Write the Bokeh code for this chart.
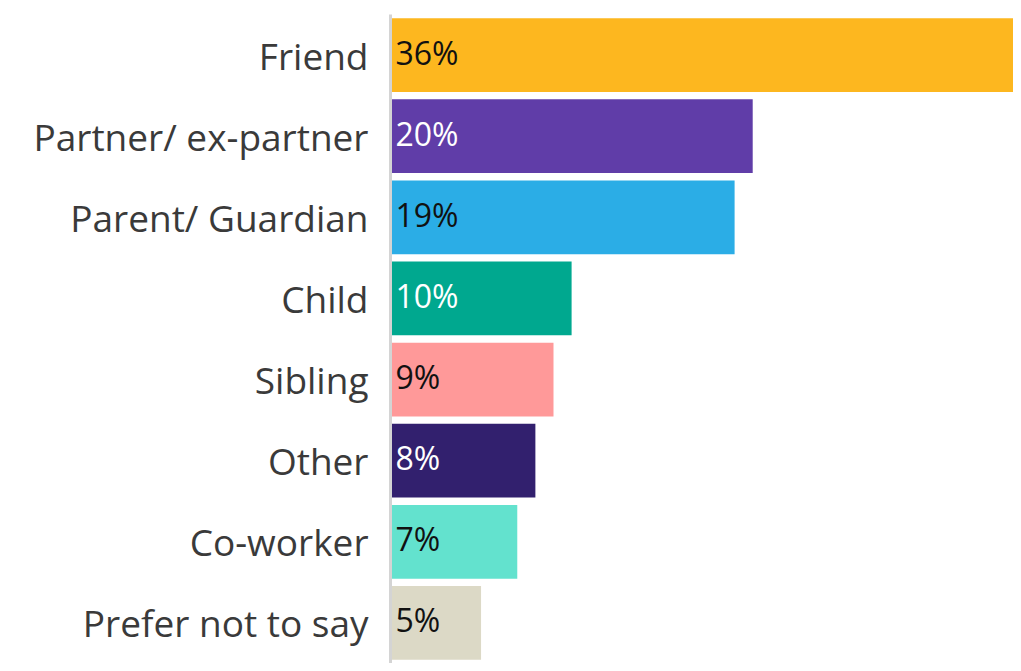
from bokeh.plotting import figure
from bokeh.models import ColumnDataSource, FactorRange, Range1d
from bokeh.core.properties import value
from bokeh.embed import file_html
from bokeh.resources import INLINE

categories = ["Friend", "Partner/ ex-partner", "Parent/ Guardian", "Child",
              "Sibling", "Other", "Co-worker", "Prefer not to say"]
values = [36, 20, 19, 10, 9, 8, 7, 5]
labels = ["36%", "20%", "19%", "10%", "9%", "8%", "7%", "5%"]
colors = ["#FDB71F", "#603DA8", "#2BADE6", "#00A88F", "#FF9999",
          "#32206E", "#63E2CE", "#DCD9C6"]
label_colors = ["#111111", "#FFFFFF", "#111111", "#FFFFFF", "#111111",
                "#FFFFFF", "#111111", "#111111"]

src = ColumnDataSource(dict(cat=categories, val=values, lab=labels,
                            col=colors, lcol=label_colors,
                            zero=[0] * len(values)))

p = figure(width=1013, height=663, output_backend="svg", toolbar_location=None,
           y_range=FactorRange(*reversed(categories), range_padding=0),
           x_range=Range1d(0, 34.4))
p.min_border_left = 390
p.min_border_right = 0
p.min_border_top = 14
p.min_border_bottom = 0
p.outline_line_color = None
p.grid.visible = False
p.xaxis.visible = False

p.hbar(y="cat", left=0, right="val", height=0.91, color="col", source=src,
       line_color=None)
p.text(x="zero", y="cat", text="lab", text_color="lcol", source=src,
       x_offset=5, y_offset=-3, text_baseline="middle", text_align="left",
       text_font=value("Open Sans"), text_font_size="32px")

ya = p.yaxis[0]
ya.axis_line_color = "#D4D4D4"
ya.axis_line_width = 3
ya.major_tick_line_color = None
ya.minor_tick_line_color = None
ya.major_tick_out = 0
ya.major_tick_in = 0
ya.major_label_standoff = 22
ya.major_label_text_font = "Open Sans"
ya.major_label_text_font_size = "37px"
ya.major_label_text_color = "#3A3A3A"

open("out.html", "w").write(file_html(p, INLINE))
